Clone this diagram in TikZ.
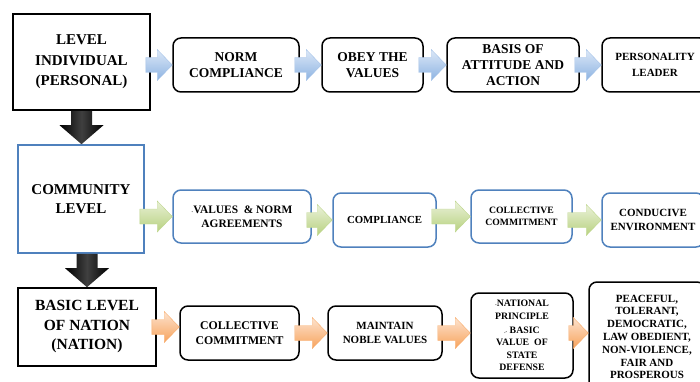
\documentclass[tikz,border=0pt]{standalone}
\usepackage{fontspec}
\setmainfont{Liberation Serif}
\usetikzlibrary{calc}

\definecolor{lineblue}{HTML}{4F81BD}
\definecolor{bluetop}{HTML}{DCE8F7}
\definecolor{bluebot}{HTML}{8DB3E2}
\definecolor{greentop}{HTML}{EBF2DA}
\definecolor{greenbot}{HTML}{B7D17F}
\definecolor{orangetop}{HTML}{FDE3CF}
\definecolor{orangebot}{HTML}{F7A35C}

\tikzset{
  fs/.style 2 args={font=\bfseries\fontsize{#1}{#2}\selectfont},
  levelbox/.style={draw=black, line width=1.6pt, fill=white, align=center, inner sep=2pt},
  stepbox/.style={draw=black, line width=1.5pt, rounded corners=8pt, fill=white, align=center, inner sep=2pt},
  bluebox/.style={stepbox, draw=lineblue},
  % fat horizontal block arrow, drawn at the target's height
  fatright/.style={to path={let \p1=(\tikztostart), \p2=(\tikztotarget) in
      (\x1-5pt,\y2-7.5pt) -- (\x2-15pt,\y2-7.5pt) -- (\x2-15pt,\y2-15.5pt) -- (\x2,\y2)
      -- (\x2-15pt,\y2+15.5pt) -- (\x2-15pt,\y2+7.5pt) -- (\x1-5pt,\y2+7.5pt) -- cycle}},
  % fat downward block arrow
  fatdown/.style={to path={let \p1=(\tikztostart), \p2=(\tikztotarget) in
      (\x1-10.5pt,\y1) -- (\x1+10.5pt,\y1) -- (\x1+10.5pt,\y2+19pt) -- (\x1+22pt,\y2+19pt)
      -- (\x1,\y2) -- (\x1-22pt,\y2+19pt) -- (\x1-10.5pt,\y2+19pt) -- cycle}},
  blueflow/.style={fatright, top color=bluetop, bottom color=bluebot, draw=bluebot!80, line width=0.4pt},
  greenflow/.style={fatright, top color=greentop, bottom color=greenbot, draw=greenbot!90, line width=0.4pt},
  orangeflow/.style={fatright, top color=orangetop, bottom color=orangebot, draw=orangebot!90, line width=0.4pt},
  downflow/.style={fatdown, left color=black, right color=black, middle color=black!75},
}

\begin{document}
\begin{tikzpicture}[x=1pt, y=-1pt]
    \useasboundingbox (0,0) rectangle (700,382);
    \clip (0,0) rectangle (700,382);

    % Level individual
    \node[levelbox, fs={15}{20.5}, minimum width=137, minimum height=96] (ind) at (81.5,62) {LEVEL\\INDIVIDUAL\\(PERSONAL)};
    \node[stepbox, fs={13.5}{16}, minimum width=126, minimum height=54] (norm) at (236,65) {NORM\\COMPLIANCE};
    \node[stepbox, fs={13.5}{16}, minimum width=101, minimum height=54] (obey) at (372.5,65) {OBEY THE\\VALUES};
    \node[stepbox, fs={13.5}{16}, minimum width=132, minimum height=54] (basis) at (513,65) {BASIS OF\\ATTITUDE AND\\ACTION};
    \node[stepbox, fs={11}{16}, minimum width=106, minimum height=54] (leader) at (655,65) {PERSONALITY\\LEADER};

    % Community level
    \node[levelbox, draw=lineblue, fs={15}{18.5}, minimum width=126, minimum height=108] (comm) at (81,199) {COMMUNITY\\LEVEL};
    \node[bluebox, fs={11.4}{14}, minimum width=138, minimum height=53] (agree) at (242,216.5) {{\tiny-}VALUES \ \& NORM\\AGREEMENTS};
    \node[bluebox, fs={10.8}{13}, minimum width=103, minimum height=54] (comply) at (384.5,220) {COMPLIANCE};
    \node[bluebox, fs={9.7}{12}, minimum width=101, minimum height=53] (commit) at (521.5,216.5) {COLLECTIVE\\COMMITMENT};
    \node[bluebox, fs={11}{13.3}, minimum width=102, minimum height=54] (envir) at (653,220) {CONDUCIVE\\ENVIRONMENT};

    % Basic level of nation
    \node[levelbox, fs={15.5}{19.5}, minimum width=138, minimum height=78] (nation) at (87,327) {BASIC LEVEL\\OF NATION\\(NATION)};
    \node[stepbox, fs={11.8}{14.3}, minimum width=119, minimum height=54] (ncommit) at (239.5,333) {COLLECTIVE\\COMMITMENT};
    \node[stepbox, fs={11}{14.3}, minimum width=114, minimum height=54] (noble) at (385,333) {MAINTAIN\\NOBLE VALUES};
    \node[stepbox, fs={9.8}{12.5}, minimum width=102, minimum height=85] (princ) at (522,335.5) {{\tiny-}NATIONAL\\PRINCIPLE\\[1.5pt]{\tiny.-} BASIC\\VALUE \ OF\\STATE\\DEFENSE};
    \node[stepbox, fs={11}{12.8}, minimum width=116, minimum height=110] (peace) at (647,337) {PEACEFUL,\\TOLERANT,\\DEMOCRATIC,\\LAW OBEDIENT,\\NON-VIOLENCE,\\FAIR AND\\PROSPEROUS};

    % Arrows between the steps
    \path[blueflow] (ind.east) to (norm.west);
    \path[blueflow] (norm.east) to (obey.west);
    \path[blueflow] (obey.east) to (basis.west);
    \path[blueflow] (basis.east) to (leader.west);

    \path[greenflow] (comm.east) to (agree.west);
    \path[greenflow] (agree.east) to (comply.west);
    \path[greenflow] (comply.east) to (commit.west);
    \path[greenflow] (commit.east) to (envir.west);

    \path[orangeflow] (nation.east) to (ncommit.west |- nation.east);
    \path[orangeflow] (ncommit.east) to (noble.west);
    \path[orangeflow] (noble.east) to (princ.west |- noble.east);
    \path[orangeflow] (princ.east) to (peace.west |- noble.east);

    % Arrows down the levels
    \path[downflow] (ind.south) to (comm.north);
    \path[downflow] (nation.north |- comm.south) to (nation.north);
\end{tikzpicture}
\end{document}
